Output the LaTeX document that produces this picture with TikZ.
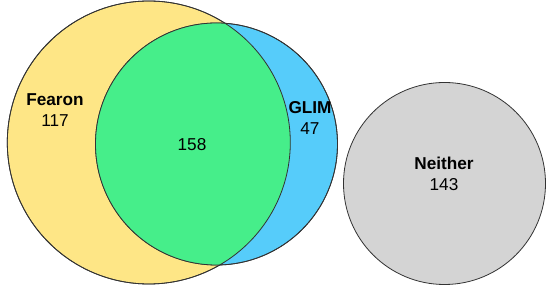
\documentclass[tikz,border=0pt]{standalone}
\usepackage{fontspec}
\setmainfont{Liberation Sans}
\definecolor{fyellow}{HTML}{FEE686}
\definecolor{gblue}{HTML}{56CCFA}
\definecolor{igreen}{HTML}{46EE8A}
\definecolor{ngray}{HTML}{D4D4D4}
\definecolor{edge}{HTML}{333333}
\begin{document}
\begin{tikzpicture}[x=1pt,y=1pt,
  setcirc/.style={circle, inner sep=0pt, draw=edge, line width=0.8pt},
  lab/.style={align=center, font=\fontsize{17.2}{21}\selectfont, text=black}]
\useasboundingbox (0,0) rectangle (550,297);
\coordinate (fc) at (148.8,154.5);
\coordinate (gc) at (216.5,153);
\coordinate (nc) at (444.5,113.5);
\node[setcirc, fill=fyellow, minimum size=283pt] (fearon) at (fc) {};
\node[setcirc, fill=gblue, minimum size=242pt] (glim) at (gc) {};
\begin{scope}
  \clip (fc) circle (141.5);
  \fill[igreen] (gc) circle (121);
\end{scope}
\draw[edge, line width=0.8pt] (fc) circle (141.5);
\draw[edge, line width=0.8pt] (gc) circle (121);
\node[setcirc, fill=ngray, minimum size=202pt] (neither) at (nc) {};
\node[lab] (fl) at (55,186.5) {\textbf{Fearon}\\117};
\node[lab] (il) at (192,152) {158};
\node[lab] (gl) at (310,179) {\textbf{GLIM}\\47};
\node[lab] (nl) at (444,123) {\textbf{Neither}\\143};
\end{tikzpicture}
\end{document}
